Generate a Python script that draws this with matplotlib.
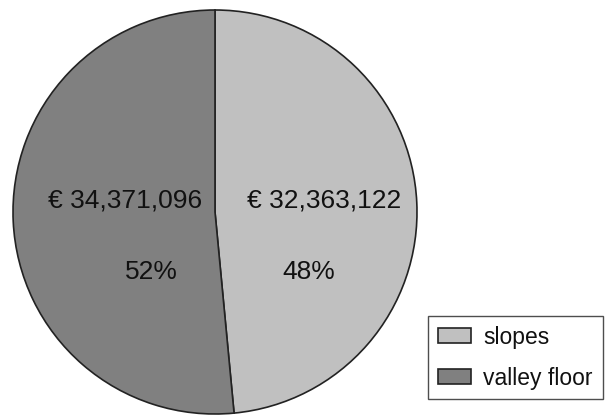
import matplotlib
matplotlib.use("Agg")
import matplotlib.pyplot as plt

categories = ["slopes", "valley floor"]
values = [32363122, 34371096]
colors = ["#c0c0c0", "#808080"]

plt.rcParams['font.family'] = ['Liberation Sans', 'DejaVu Sans']

W, H = 605, 418
fig = plt.figure(figsize=(W / 100, H / 100), dpi=100)
# pie centre (215, 212) px, radius 202 px
cx, cy, r = 215, 212, 202
ax = fig.add_axes([(cx - r) / W, (H - cy - r) / H, 2 * r / W, 2 * r / H])
wedges, _ = ax.pie(values, colors=colors, startangle=90, counterclock=False,
                   wedgeprops=dict(edgecolor="#222222", linewidth=1.2))
ax.set_xlim(-1, 1)
ax.set_ylim(-1, 1)
ax.set_aspect('equal')
ax.axis('off')

total = sum(values)
def px(x, y):
    return ((x - cx) / r, (cy - y) / r)

label_pos = [(324.5, 201), (125.5, 201)]
pct_pos = [(309, 272), (151.5, 272)]
for v, lp, pp in zip(values, label_pos, pct_pos):
    ax.text(*px(*lp), f"€ {v:,}", ha='center', va='center', fontsize=19, color='#111111')
    ax.text(*px(*pp), f"{round(100 * v / total)}%", ha='center', va='center', fontsize=19, color='#111111')

leg = fig.legend(wedges, categories, loc='upper left',
                 bbox_to_anchor=(428 / W, 1 - 316 / H), bbox_transform=fig.transFigure,
                 fontsize=16.5, frameon=True, fancybox=False, shadow=False,
                 borderaxespad=0, borderpad=0.42, handlelength=1.45, handleheight=0.66,
                 handletextpad=0.55, labelspacing=0.78)
leg.get_frame().set_edgecolor('#222222')
leg.get_frame().set_linewidth(1.0)
for t in leg.get_texts():
    t.set_color('#111111')

fig.savefig("out.png", dpi=100)
